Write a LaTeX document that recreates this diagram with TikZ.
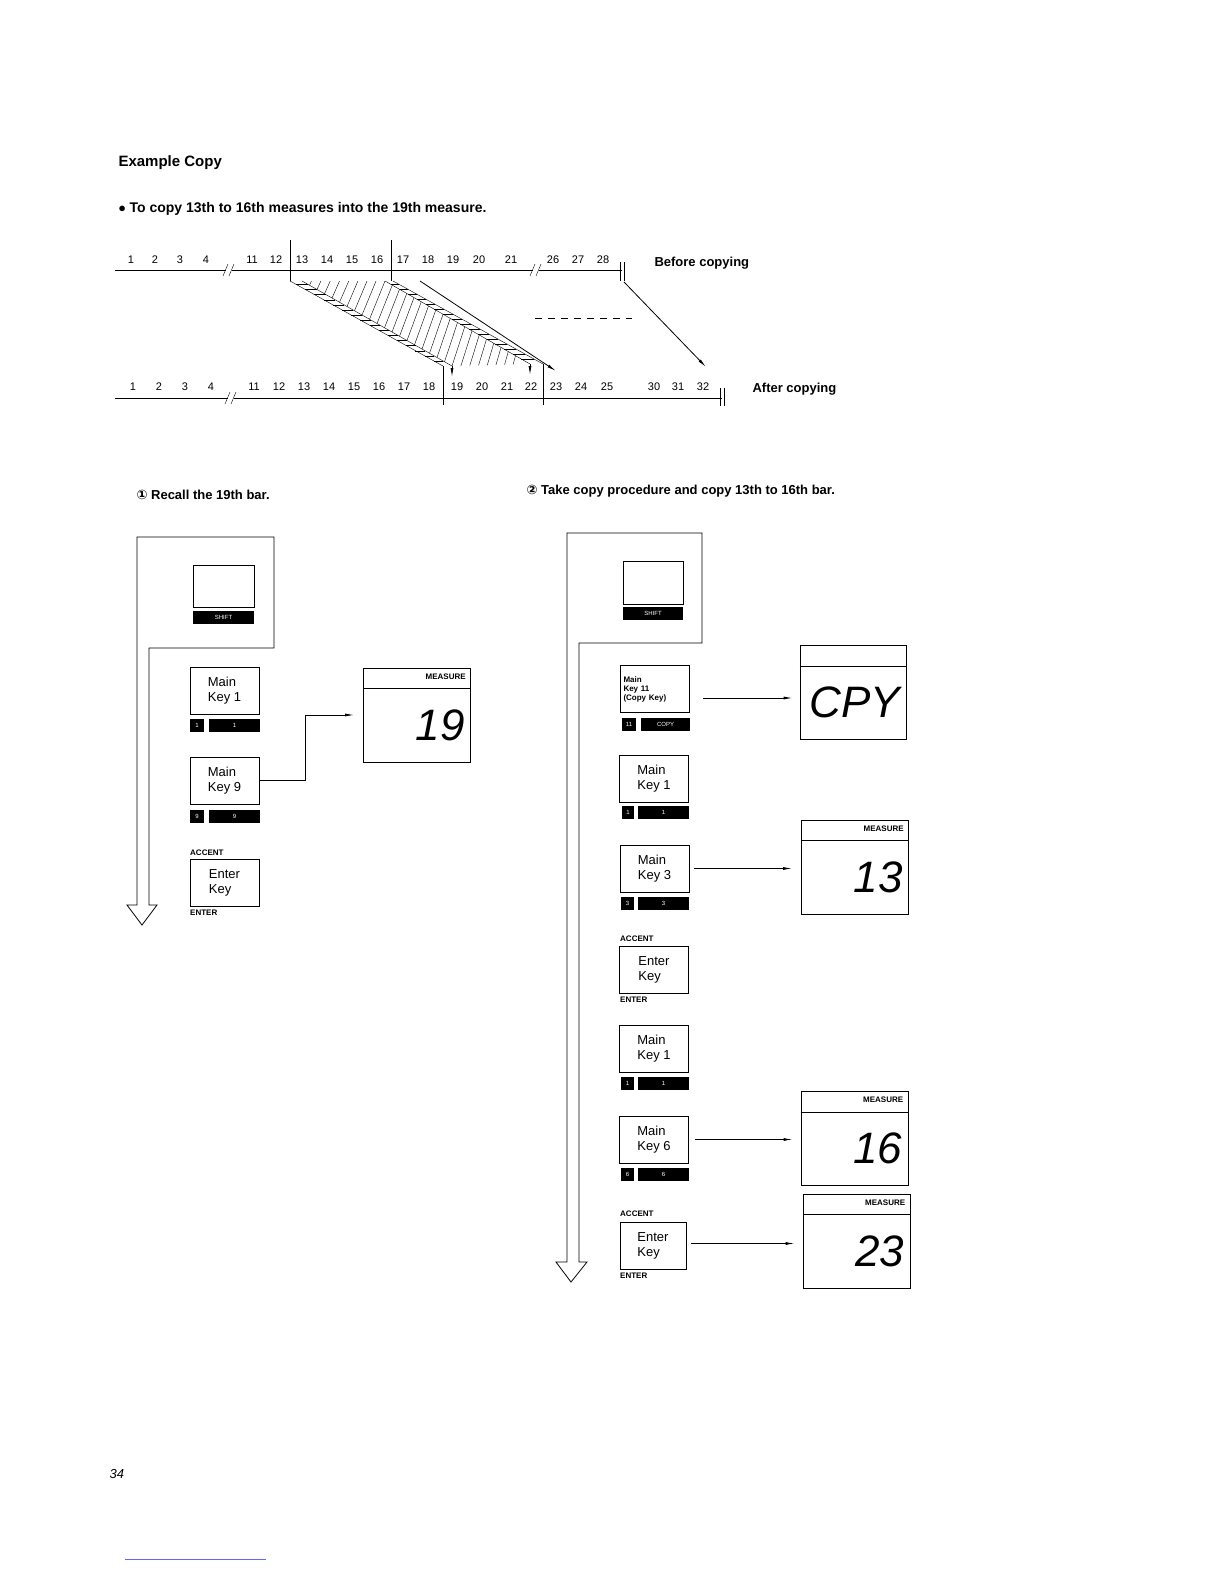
\documentclass[tikz,border=0pt]{standalone}
\usepackage{fontspec}
\setmainfont{Liberation Sans}
\newfontfamily\symfont{DejaVu Sans}
\usetikzlibrary{arrows.meta,calc}

\begin{document}
\begin{tikzpicture}[x=1pt,y=-1pt]
  \tikzstyle{k} = [draw, thick, minimum width=69pt, minimum height=47pt,
  inner sep=2pt, align=left, font=\fontsize{13}{15}\selectfont];
  \tikzstyle{n} = [fill=black, text=white, inner sep=0pt, minimum height=13pt,
  font=\fontsize{6}{6}\selectfont];
  \tikzstyle{sm} = [inner sep=0pt, font=\fontsize{8}{8}\bfseries\selectfont];
  \tikzstyle{d} = [draw, thick, minimum width=107pt, minimum height=94pt];
  \tikzstyle{seg} = [inner sep=0pt, font=\fontsize{44}{44}\itshape\selectfont];
  \tikzstyle{a} = [thick, -{Latex[length=9pt,width=3pt]}];
  \tikzstyle{num} = [inner sep=0pt, font=\fontsize{11}{11}\selectfont];

  \useasboundingbox[fill=white] (0,0) rectangle (1224,1584);

  \node[anchor=west, font=\fontsize{15}{15}\bfseries\selectfont] (title) at (115,163) {Example Copy};
  \node[anchor=west, font=\fontsize{14}{14}\bfseries\selectfont] (intro) at (115,209)
    {$\bullet$ To copy 13th to 16th measures into the 19th measure.};

  % before copying
  \draw[thick] (115,270) -- (226,270) (232,270) -- (533,270) (539,270) -- (622,270);
  \draw (223,276) -- (228,264) (229,276) -- (234,264);
  \draw (530,276) -- (535,264) (536,276) -- (541,264);
  \draw[thick] (620,262) -- (620,281) (624,262) -- (624,281);
  \foreach \x/\t in {131/1,155/2,180/3,206/4,252/11,276/12,302/13,327/14,352/15,377/16,
    403/17,428/18,453/19,479/20,511/21,553/26,578/27,603/28}
    \node[num] (b\t) at (\x,260) {\t};
  \node[anchor=west, font=\fontsize{13}{13}\bfseries\selectfont] (before) at (651,263) {Before copying};
  \draw (290,240) -- (290,281) (391,240) -- (391,281);

  % after copying
  \draw[thick] (115,398) -- (228,398) (234,398) -- (722,398);
  \draw (225,404) -- (230,392) (231,404) -- (236,392);
  \draw[thick] (720,388) -- (720,406) (724,388) -- (724,406);
  \foreach \x/\t in {133/1,159/2,185/3,211/4,254/11,279/12,304/13,329/14,354/15,379/16,
    404/17,429/18,457/19,482/20,507/21,531/22,556/23,581/24,607/25,654/30,678/31,703/32}
    \node[num] (c\t) at (\x,387) {\t};
  \node[anchor=west, font=\fontsize{13}{13}\bfseries\selectfont] (after) at (749,389) {After copying};
  \draw (443,366) -- (443,405) (543,364) -- (543,405);

  % copied band
  \coordinate (p1a) at (290,281); \coordinate (p1b) at (443,366);
  \coordinate (p2a) at (302,281); \coordinate (p2b) at (452,366);
  \coordinate (q1a) at (385,281); \coordinate (q1b) at (530,364);
  \coordinate (q2a) at (393,281); \coordinate (q2b) at (543,364);
  \draw (p1a) -- (p1b) (p2a) -- (p2b) (q1a) -- (q1b) (q2a) -- (q2b);
  \draw[a] (p2b) -- (452,377);
  \draw[a] (q1b) -- (530,375);
  \foreach \t in {0.04,0.1,...,0.98} {
    \draw ($(p1a)!\t!(p1b)$) -- ($(p2a)!\t!(p2b)$);
    \draw ($(q1a)!\t!(q1b)$) -- ($(q2a)!\t!(q2b)$);
  }
  \begin{scope}
    \clip (p2a) -- (q1a) -- (q1b) -- (p2b) -- cycle;
    \foreach \t in {0,0.05,...,1.4}
      \draw ($(p2a)!\t!(p2b)$) -- ($(q1a)!\t-0.45!(q1b)$);
  \end{scope}
  \draw[a] (420,281) -- (556,371);
  \draw[thick, dashed, dash pattern=on 7pt off 6pt] (535,318) -- (632,318);
  \draw[a] (624,282) -- (706,367);

  % step 1
  \node[anchor=west, font=\fontsize{13}{13}\bfseries\selectfont] (s1) at (133,495) {{\symfont\char"2460}\ Recall the 19th bar.};
  \draw[thick] (149,905) -- (149,648) -- (274,648) -- (274,537) -- (137,537) -- (137,905)
    -- (127,905) -- (142,925) -- (157,905) -- cycle;
  \node[draw, thick, minimum width=61pt, minimum height=42pt] (sh1) at (223.5,586) {};
  \node[n, minimum width=61pt] (shl1) at (223.5,617) {SHIFT};
  \node[k] (m1) at (224.5,690.5) {Main\\Key 1};
  \node[n, minimum width=14pt] (m1a) at (197,725) {1};
  \node[n, minimum width=51pt] (m1b) at (234.5,725) {1};
  \node[k] (m9) at (224.5,780.5) {Main\\Key 9};
  \node[n, minimum width=14pt] (m9a) at (197,816) {9};
  \node[n, minimum width=51pt] (m9b) at (234.5,816) {9};
  \node[sm, anchor=south west] (ac1) at (190,856) {ACCENT};
  \node[k] (e1) at (224.5,882.5) {Enter\\Key};
  \node[sm, anchor=north west] (en1) at (190,910) {ENTER};
  \node[d] (d1) at (417,715) {};
  \draw[thick] ([yshift=-21pt]d1.north west) -- ([yshift=-21pt]d1.north east);
  \node[sm, anchor=north east] (h1) at ([shift={(-5pt,-6pt)}]d1.north east) {MEASURE};
  \node[seg, anchor=east] (v1) at ([shift={(-6pt,-10pt)}]d1.east) {19};
  \draw[a] (m9.east) -- (305,780.5) -- (305,715) -- (354,715);

  % step 2
  \node[anchor=west, font=\fontsize{13}{13}\bfseries\selectfont] (s2) at (523,491)
    {{\symfont\char"2461}\ Take copy procedure and copy 13th to 16th bar.};
  \draw[thick] (579,1262) -- (579,643) -- (702,643) -- (702,533) -- (567,533) -- (567,1262)
    -- (556,1262) -- (571,1282) -- (587,1262) -- cycle;
  \node[draw, thick, minimum width=60pt, minimum height=43pt] (sh2) at (653,582.5) {};
  \node[n, minimum width=60pt] (shl2) at (653,613.5) {SHIFT};
  \node[k, font=\fontsize{8}{9}\bfseries\selectfont, text width=62pt] (k11) at (654.5,689) {Main\\Key 11\\(Copy Key)};
  \node[n, minimum width=14pt] (k11a) at (629,724) {11};
  \node[n, minimum width=49pt] (k11b) at (665.5,724) {COPY};
  \node[k] (k1) at (654,778.5) {Main\\Key 1};
  \node[n, minimum width=12pt] (k1a) at (628,812.5) {1};
  \node[n, minimum width=51pt] (k1b) at (663.5,812.5) {1};
  \node[k] (k3) at (654.5,868.5) {Main\\Key 3};
  \node[n, minimum width=13pt] (k3a) at (627.5,903.5) {3};
  \node[n, minimum width=51pt] (k3b) at (663.5,903.5) {3};
  \node[sm, anchor=south west] (ac2) at (620,942) {ACCENT};
  \node[k] (e2) at (654,969.5) {Enter\\Key};
  \node[sm, anchor=north west] (en2) at (620,997) {ENTER};
  \node[k] (k1c) at (654,1048.5) {Main\\Key 1};
  \node[n, minimum width=13pt] (k1ca) at (627.5,1083.5) {1};
  \node[n, minimum width=51pt] (k1cb) at (663.5,1083.5) {1};
  \node[k] (k6) at (654,1139.5) {Main\\Key 6};
  \node[n, minimum width=13pt] (k6a) at (627.5,1174.5) {6};
  \node[n, minimum width=51pt] (k6b) at (663.5,1174.5) {6};
  \node[sm, anchor=south west] (ac3) at (620,1217) {ACCENT};
  \node[k, minimum width=66pt] (e3) at (653,1245.5) {Enter\\Key};
  \node[sm, anchor=north west] (en3) at (620,1273) {ENTER};

  \node[d, minimum width=106pt] (d2) at (853,692.5) {};
  \draw[thick] ([yshift=-21pt]d2.north west) -- ([yshift=-21pt]d2.north east);
  \node[seg, anchor=east] (v2) at ([shift={(-6pt,-10pt)}]d2.east) {CPY};
  \node[d] (d3) at (855,867) {};
  \node[d] (d4) at (854.5,1138.5) {};
  \node[d] (d5) at (856.5,1241) {};
  \foreach \dd/\v in {d3/13,d4/16,d5/23} {
    \draw[thick] ([yshift=-21pt]\dd.north west) -- ([yshift=-21pt]\dd.north east);
    \node[sm, anchor=north east] at ([shift={(-5pt,-6pt)}]\dd.north east) {MEASURE};
    \node[seg, anchor=east] at ([shift={(-6pt,-10pt)}]\dd.east) {\v};
  }
  \draw[a] ([xshift=14pt,yshift=-9pt]k11.east) -- ([xshift=-7pt,yshift=-9pt]k11.east -| d2.west);
  \draw[a] ([xshift=5pt]k3.east) -- ([xshift=-9pt]k3.east -| d3.west);
  \draw[a] ([xshift=6pt]k6.east) -- ([xshift=-8pt]k6.east -| d4.west);
  \draw[a] ([xshift=5pt,yshift=2pt]e3.east) -- ([xshift=-8pt,yshift=2pt]e3.east -| d5.west);

  \node[anchor=west, font=\fontsize{13}{13}\itshape\selectfont] (page) at (106,1474) {34};
  \draw[blue!60] (125,1559) -- (266,1559);
\end{tikzpicture}
\end{document}
